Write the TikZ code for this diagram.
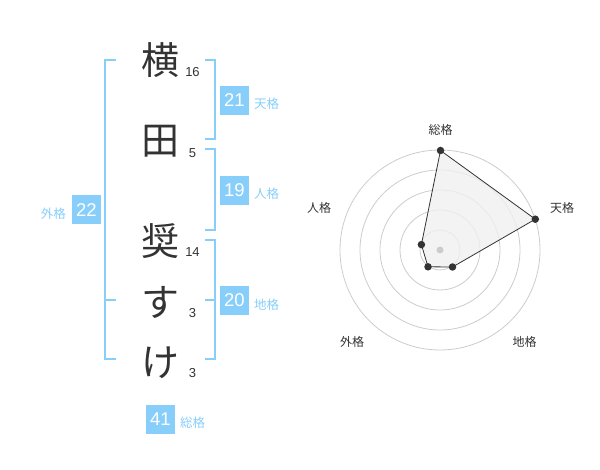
\documentclass[tikz,border=0pt]{standalone}
\usepackage{fontspec}
\setmainfont{Liberation Sans}
\newfontfamily\jp{Noto Sans CJK JP}
\definecolor{sky}{HTML}{87CEFA}
\definecolor{ink}{HTML}{333333}
\definecolor{ring}{HTML}{CCCCCC}
\definecolor{area}{HTML}{F0F0F0}
\begin{document}
\begin{tikzpicture}[x=1pt,y=-1pt,
  kanji/.style={font=\jp\fontsize{38}{38}\selectfont,text=ink,inner sep=0pt},
  strokes/.style={font=\fontsize{13}{13}\selectfont,text=ink,inner sep=0pt},
  scorebox/.style={fill=sky,text=white,font=\fontsize{18.5}{18.5}\selectfont,minimum width=29pt,minimum height=29pt,inner sep=0pt},
  kaku/.style={font=\jp\fontsize{12.5}{12.5}\selectfont,text=sky,inner sep=0pt},
  bracket/.style={draw=sky,line width=2pt},
  radlabel/.style={font=\jp\fontsize{12}{12}\selectfont,text=ink,inner sep=0pt},
  ringline/.style={draw=ring,line width=0.8pt},
  dot/.style={circle,fill=ink,inner sep=0pt,minimum size=7.5pt}]
\useasboundingbox (0,0) rectangle (600,470);
% characters
\node[kanji] (c1) at (160,60) {横};
\node[kanji] (c2) at (160,141) {田};
\node[kanji] (c3) at (160,241) {奨};
\node[kanji] (c4) at (160,302) {す};
\node[kanji] (c5) at (160,363) {け};
\node[strokes] (n1) at (192.5,72.5) {16};
\node[strokes] (n2) at (192.5,153) {5};
\node[strokes] (n3) at (192.5,252.5) {14};
\node[strokes] (n4) at (192.5,313) {3};
\node[strokes] (n5) at (192.5,373) {3};
% brackets
\draw[bracket] (116,60) -- (105,60) -- (105,359.5) -- (116,359.5);
\draw[bracket] (105,300) -- (116,300);
\draw[bracket] (205,60) -- (215,60) -- (215,139.5) -- (205,139.5);
\draw[bracket] (205,149.5) -- (215,149.5) -- (215,230) -- (205,230);
\draw[bracket] (205,240) -- (215,240) -- (215,359.5) -- (205,359.5);
\draw[bracket] (205,300) -- (215,300);
% score boxes
\node[scorebox] (b21) at (234.5,100.5) {21};
\node[kaku,anchor=west] (l21) at (254,104) {天格};
\node[scorebox] (b19) at (234.5,190.5) {19};
\node[kaku,anchor=west] (l19) at (254,194) {人格};
\node[scorebox] (b22) at (86.5,210) {22};
\node[kaku,anchor=east] (l22) at (66,214) {外格};
\node[scorebox] (b20) at (234.5,300.5) {20};
\node[kaku,anchor=west] (l20) at (254,304.5) {地格};
\node[scorebox] (b41) at (160.5,419.5) {41};
\node[kaku,anchor=west] (l41) at (180,423) {総格};
% radar
\coordinate (o) at (440,250);
\foreach \r in {20,40,60,80,100} \draw[ringline] (o) circle[radius=\r];
\coordinate (p1) at (440.5,150.5);
\coordinate (p2) at (535.3,219.2);
\coordinate (p3) at (452.5,267);
\coordinate (p4) at (428,266.8);
\coordinate (p5) at (421.4,244.6);
\filldraw[fill=area,fill opacity=0.8,draw=ink,line width=0.8pt] (p1) -- (p2) -- (p3) -- (p4) -- (p5) -- cycle;
\fill[ring] (o) circle[radius=3.5];
\foreach \p in {p1,p2,p3,p4,p5} \node[dot] at (\p) {};
\node[radlabel] (r1) at (440.5,130) {総格};
\node[radlabel] (r2) at (562,208) {天格};
\node[radlabel] (r3) at (524.5,342) {地格};
\node[radlabel] (r4) at (352,342) {外格};
\node[radlabel] (r5) at (319,208) {人格};
\end{tikzpicture}
\end{document}
